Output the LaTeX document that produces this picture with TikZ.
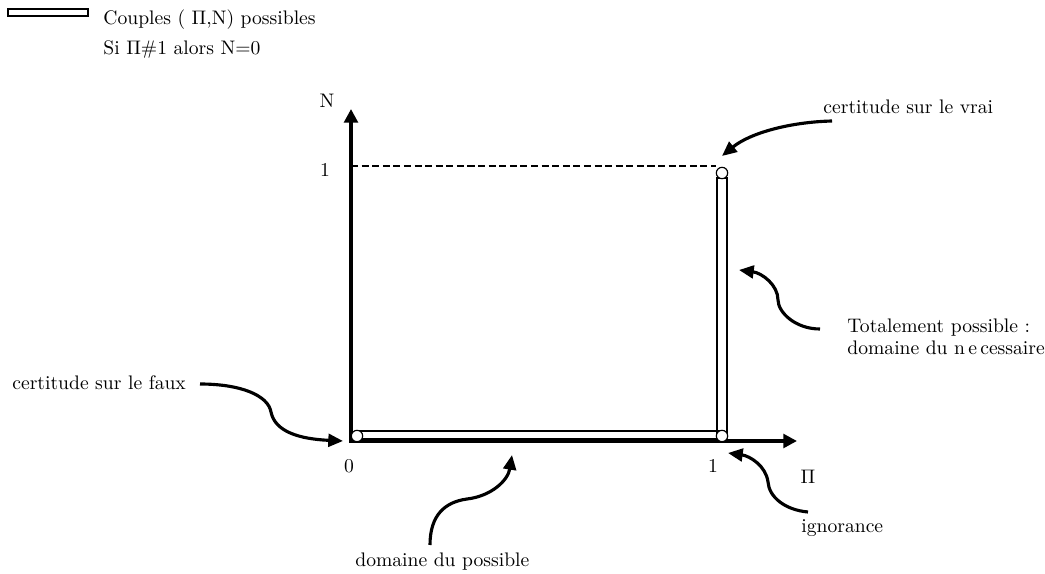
\documentclass[tikz,border=0pt]{standalone}
\usepackage{amsmath,amssymb}
\usetikzlibrary{arrows.meta}
\usetikzlibrary{positioning}

\begin{document}
\begin{tikzpicture}[x=0.51pt,y=-0.51pt,
		axe/.style={line width=2pt, {Triangle[length=7pt,width=7pt]}-{Triangle[length=7pt,width=7pt]}},
		fleche/.style={line width=1.6pt, -{Triangle[length=7.5pt,width=6.5pt]}},
		bande/.style={draw, line width=0.7pt},
		rond/.style={draw, circle, fill=white, line width=0.6pt, inner sep=0pt, minimum size=5.8pt},
		txt/.style={inner sep=0pt, anchor=base west}]
		\useasboundingbox (0,0) rectangle (1045,574);
		
		%Legend
		\node[draw, line width=0.8pt, minimum width=41pt, minimum height=3.6pt, inner sep=0pt, anchor=north west] (legende) at (7,8){};
		\node[txt] (couples) at (103,25){Couples ( $\Pi$,N) possibles};
		\node[txt] (regle) at (103,55){Si $\Pi$\#1 alors N=0};
		
		%Axes
		\coordinate (O) at (351,441);
		\coordinate (Nbout) at (351,109);
		\coordinate (Pbout) at (797,441);
		\draw[axe] (Nbout) -- (O) -- (Pbout);
		\node[anchor=base] (N) at (327,108){N};
		\node[anchor=base] (unN) at (325,177){1};
		\node[anchor=base] (zero) at (349,472){0};
		\node[anchor=base] (unP) at (713,472){1};
		\node[anchor=base] (Pi) at (808,483){$\Pi$};
		
		%Couples possibles
		\draw[bande] (717,178) rectangle (727,436);
		\draw[bande] (357,431) rectangle (722,439);
		\node[rond] (c11) at (722,173){};
		\node[rond] (c00) at (357,436){};
		\node[rond] (c10) at (722,436){};
		\coordinate (pointN) at (351,166);
		\draw[line width=0.9pt, dash pattern=on 3.6pt off 1.8pt] (pointN) -- (c11.west |- pointN);
		
		%Comments
		\node[txt] (vrai) at (823,114){certitude sur le vrai};
		\coordinate (vrai0) at (832,121);
		\coordinate (vrai1) at (722,156);
		\draw[fleche] (vrai0) .. controls (790,122) and (750,133) .. (vrai1);
		
		\node[txt] (total) at (847,332){Totalement possible :};
		\node[txt] (necessaire) at (847,354){domaine du n\,e\,cessaire};
		\coordinate (total0) at (820,329);
		\coordinate (total1) at (739,270);
		\draw[fleche] (total0) .. controls (795,329) and (778,312) .. (778,300) .. controls (778,285) and (762,273) .. (total1);
		
		\node[txt] (faux) at (12,389){certitude sur le faux};
		\coordinate (faux0) at (200,384);
		\coordinate (faux1) at (343,441);
		\draw[fleche] (faux0) .. controls (240,384) and (268,395) .. (271,412) .. controls (275,432) and (300,439) .. (faux1);
		
		\node[txt] (ignorance) at (801,532){ignorance};
		\coordinate (ign0) at (808,512);
		\coordinate (ign1) at (728,453);
		\draw[fleche] (ign0) .. controls (785,510) and (769,497) .. (768,482) .. controls (766,466) and (750,456) .. (ign1);
		
		\node[txt] (possible) at (355,566){domaine du possible};
		\coordinate (poss0) at (430,545);
		\coordinate (poss1) at (512,455);
		\draw[fleche] (poss0) .. controls (430,515) and (445,502) .. (467,499) .. controls (492,496) and (508,480) .. (poss1);
	\end{tikzpicture}
\end{document}
